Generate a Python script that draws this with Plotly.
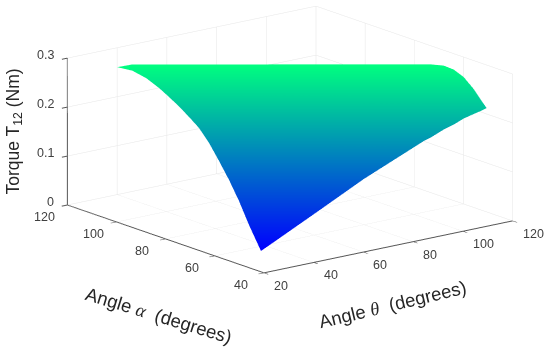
import plotly.graph_objects as go

# Surface outline: columns run left to right, upper and lower edge
theta_upper = [30.81,35.11,38.61,41.86,44.36,46.87,49.37,51.87,54.37,56.87,59.38,61.88,64.38,67.38,70.64,81.39,93.15,108.16,109.91,112.93,114.63,115.64,115.75,115.36,115.21]
alpha_upper = [110.62,108.88,106.73,104.74,103.21,101.68,100.15,98.62,97.09,95.56,94.03,92.50,90.97,89.13,87.14,80.55,73.36,64.17,63.10,60.87,58.53,55.49,51.54,47.89,45.72]
torque_upper = [.2863,.2903,.2903,.2903,.2903,.2903,.2903,.2903,.2903,.2903,.2903,.2903,.2903,.2903,.2903,.2903,.2903,.2903,.2903,.2885,.2826,.2715,.2538,.2360,.2256]
theta_lower = [30.81,33.87,35.88,37.13,37.84,38.45,38.86,39.17,38.68,37.59,36.31,34.62,32.33,30.15,35.20,51.94,70.28,92.87,95.32,100.17,103.66,107.36,110.77,113.47,115.21]
alpha_lower = [110.62,107.63,103.97,99.96,96.62,93.17,89.52,85.78,81.22,76.06,70.70,64.94,58.56,51.49,51.31,50.77,50.24,48.71,48.34,47.96,47.44,47.12,46.50,45.97,45.72]
torque_lower = [.2863,.2811,.2700,.2552,.2419,.2279,.2123,.1960,.1738,.1472,.1191,.0880,.0525,.0140,.0273,.0717,.1206,.1768,.1820,.1938,.2012,.2101,.2168,.2219,.2256]

theta_ticks = [20,40,60,80,100,120]
alpha_ticks = [40,60,80,100,120]
torque_ticks = [0,0.1,0.2,0.3]
torque_tick_labels = ["0","0.1","0.2","0.3"]

FONT = "Liberation Sans"
TICK_FONT = dict(family=FONT, size=12.5, color="#404040")
fig = go.Figure(go.Surface(
    x=[theta_lower, theta_upper], y=[alpha_lower, alpha_upper], z=[torque_lower, torque_upper],
    surfacecolor=[torque_lower, torque_upper],
    colorscale=[[0, "rgb(0,0,255)"], [1, "rgb(0,255,128)"]],
    cmin=.014, cmax=.2903, showscale=False, hoverinfo="skip",
    lighting=dict(ambient=1, diffuse=0, specular=0, roughness=1, fresnel=0),
))
def axis(rng, vals):
    return dict(range=rng, tickvals=vals, title=dict(text=""), showbackground=False, showticklabels=False,
                showgrid=True, gridcolor="#e6e6e6", gridwidth=1, showline=True, linecolor="#555555",
                linewidth=2, zeroline=False, ticks="outside", ticklen=7, tickwidth=2, tickcolor="#555555", showspikes=False)

labels = []
for v in theta_ticks:
    labels.append(dict(x=v, y=40, z=0, text=str(v), xanchor="left", yanchor="middle", xshift=8, yshift=-13))
for v in alpha_ticks:
    labels.append(dict(x=20, y=v, z=0, text=str(v), xanchor="center", yanchor="middle", xshift=-23, yshift=-12))
for v, s in zip(torque_ticks, torque_tick_labels):
    labels.append(dict(x=20, y=120, z=v, text=s, xanchor="right", yanchor="middle", xshift=-11, yshift=3))
for a in labels:
    a.update(showarrow=False, font=TICK_FONT)

fig.update_layout(
    width=550, height=356, margin=dict(l=0, r=0, t=0, b=0), paper_bgcolor="white", showlegend=False,
    scene=dict(
        domain=dict(x=[.054, 1], y=[.2192, .9972]),
        xaxis=axis([20,120], theta_ticks), yaxis=axis([40,120], alpha_ticks),
        zaxis=axis([0,.3], torque_ticks),
        aspectmode="manual", aspectratio=dict(x=2.275, y=2.311, z=1.101),
        camera=dict(eye=dict(x=-2.366, y=-3.04, z=1.074), up=dict(x=0,y=0,z=1), center=dict(x=0,y=0,z=0),
                    projection=dict(type="orthographic")),
        annotations=labels,
    ),
)
def title(text, px, py, angle, size):
    fig.add_annotation(text=text, x=px/550, y=1-py/356, xref="paper", yref="paper", xanchor="center", yanchor="middle",
                       textangle=angle, showarrow=False, font=dict(family=FONT, size=size, color="#262626"))
title("Torque T<sub>12</sub> (Nm)", 14, 131.5, -90, 17.5)
title('Angle&nbsp;<i style="font-family:Liberation Serif">α</i>&nbsp;&nbsp;(degrees)', 159, 315, 17, 18.5)
title('Angle&nbsp;<i style="font-family:Liberation Serif">θ</i>&nbsp;&nbsp;(degrees)', 392, 304, -13.5, 18.5)
fig.write_html("out.html", config={"displayModeBar": False}, post_script="document.body.style.margin='0';")
